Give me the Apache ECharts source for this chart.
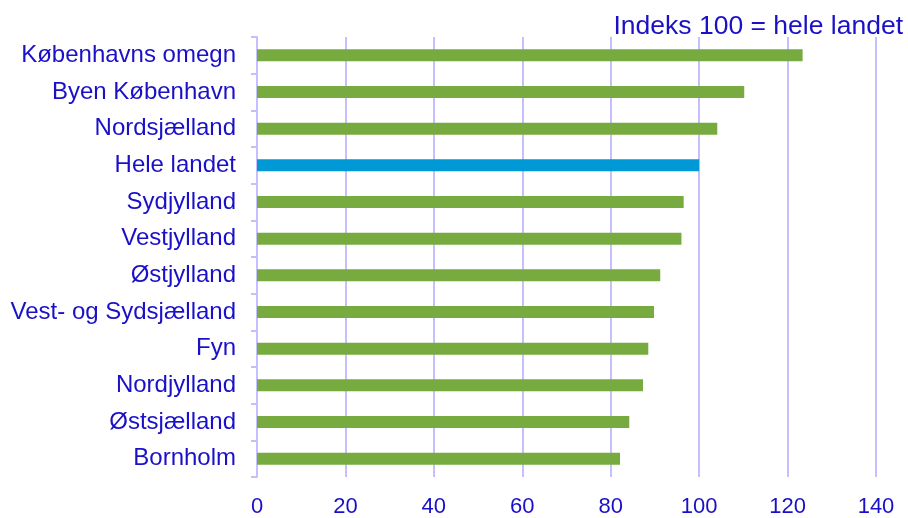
<!DOCTYPE html>
<html>
<head>
<meta charset="utf-8">
<script src="https://cdn.jsdelivr.net/npm/echarts@6/dist/echarts.min.js"></script>
<style>
html,body{margin:0;padding:0;background:#fff;}
#chart{width:908px;height:518px;}
</style>
</head>
<body>
<div id="chart"></div>
<script>
var categories = ["Københavns omegn","Byen København","Nordsjælland","Hele landet","Sydjylland","Vestjylland","Østjylland","Vest- og Sydsjælland","Fyn","Nordjylland","Østsjælland","Bornholm"];
var values = [123.4,110.2,104.1,100,96.5,96.0,91.2,89.8,88.5,87.3,84.2,82.1];
var highlight = "Hele landet";
var titleText = "Indeks 100 = hele landet";
var xTicks = [0,20,40,60,80,100,120,140];

var textColor = '#1a10c8';
var gridColor = '#c4c0ff';
var green = '#77ab3f';
var blue = '#0099d6';

var chart = echarts.init(document.getElementById('chart'));
chart.setOption({
  animation:false,
  title:{
    text:titleText,
    right:0,
    top:8,
    textStyle:{color:textColor,fontFamily:'Liberation Sans',fontSize:26.5,fontWeight:'normal'}
  },
  grid:{left:257,right:32,top:37,bottom:39,containLabel:false},
  xAxis:{
    type:'value',
    min:xTicks[0],
    max:xTicks[xTicks.length-1],
    interval:xTicks[1]-xTicks[0],
    axisLine:{show:false},
    axisTick:{show:false},
    splitLine:{show:true,lineStyle:{color:gridColor,width:2}},
    axisLabel:{color:textColor,fontFamily:'Liberation Sans',fontSize:22,margin:19}
  },
  yAxis:{
    type:'category',
    inverse:true,
    data:categories,
    axisLine:{show:true,lineStyle:{color:gridColor,width:2}},
    axisTick:{show:true,length:6,lineStyle:{color:gridColor,width:2}},
    axisLabel:{color:textColor,fontFamily:'Liberation Sans',fontSize:24,margin:21}
  },
  series:[{
    type:'bar',
    barWidth:12,
    data:values.map(function(v,i){
      return {value:v,itemStyle:{color:categories[i]===highlight?blue:green}};
    })
  }]
});
</script>
</body>
</html>
